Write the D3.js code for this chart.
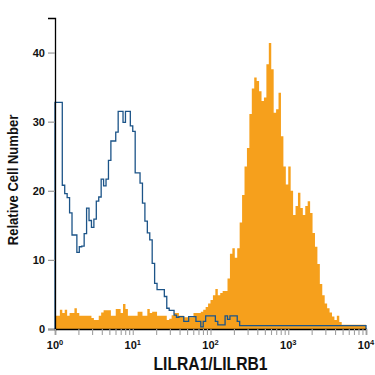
<!DOCTYPE html>
<html>
<head>
<meta charset="utf-8">
<script src="https://cdn.jsdelivr.net/npm/d3@7"></script>
<style>
  html, body { margin: 0; padding: 0; background: #fff; }
  svg { display: block; }
</style>
</head>
<body>
<svg id="chart" width="375" height="375"></svg>
<script>
// ---- data ----
const xDomain = [1, 10000];          // log10 channel range
const yDomain = [0, 45];
const yTicks = [0, 10, 20, 30, 40];
const xMajorTicks = [1, 10, 100, 1000, 10000];
const xExponents = ["0", "1", "2", "3", "4"];
const xTitle = "LILRA1/LILRB1";
const yTitle = "Relative Cell Number";

// 128 log-spaced bins over 10^0..10^4
const isotypeCounts = [
  32.8, 32.8, 32.8, 20.8, 19.6, 19.0, 16.8, 13.6, 13.6, 11.1,
  11.9, 12.0, 13.8, 17.5, 15.7, 14.7, 15.9, 18.5, 19.1, 21.7,
  20.7, 21.7, 24.4, 27.2, 27.2, 28.5, 31.5, 31.5, 29.9, 31.5,
  31.5, 29.4, 28.6, 22.6, 22.6, 21.1, 18.2, 15.6, 13.9, 12.9,
  9.5, 6.6, 5.7, 5.7, 5.7, 4.7, 3.0, 2.7, 2.7, 2.0,
  1.7, 1.8, 1.8, 1.1, 1.1, 1.8, 1.8, 1.8, 1.1, 1.1,
  0.3, 1.1, 1.9, 1.9, 1.9, 1.9, 1.1, 0.6, 0.6, 0.6,
  1.9, 1.4, 1.9, 1.9, 1.9, 1.1, 0.5, 0.5, 0.5, 0.5,
  0.5, 0.5, 0.5, 0.5, 0.5, 0.5, 0.5, 0.5, 0.5, 0.5,
  0.5, 0.5, 0.5, 0.5, 0.5, 0.5, 0.5, 0.5, 0.5, 0.5,
  0.5, 0.5, 0.5, 0.5, 0.5, 0.5, 0.5, 0.5, 0.5, 0.5,
  0.5, 0.5, 0.5, 0.5, 0.5, 0.5, 0.5, 0.5, 0.5, 0.5,
  0.5, 0.5, 0.5, 0.5, 0.5, 0.5, 0.5, 0.5
];
const stainedCounts = [
  1.9, 1.9, 2.8, 2.3, 2.8, 1.9, 2.3, 2.3, 3.0, 2.3,
  1.9, 1.9, 1.9, 1.9, 1.9, 1.6, 1.3, 1.3, 1.9, 2.4,
  2.7, 2.7, 2.7, 1.9, 1.9, 2.9, 2.9, 2.3, 3.6, 2.9,
  1.9, 1.9, 1.9, 1.9, 2.5, 2.5, 1.9, 1.9, 2.9, 2.3,
  2.5, 2.5, 1.9, 1.9, 1.9, 1.9, 1.3, 1.5, 2.0, 2.3,
  2.3, 1.9, 1.9, 1.7, 1.7, 1.7, 1.7, 2.3, 2.3, 2.3,
  2.5, 2.8, 3.2, 3.7, 4.2, 4.9, 5.8, 4.9, 5.2, 5.5,
  5.5, 7.3, 10.9, 11.7, 10.3, 11.7, 15.4, 19.4, 23.5, 26.2,
  31.1, 34.8, 36.4, 35.9, 34.4, 33.0, 33.5, 38.3, 41.4, 37.6,
  31.3, 31.8, 34.2, 27.9, 23.5, 20.9, 23.5, 20.0, 16.5, 17.8,
  19.7, 17.5, 16.5, 17.8, 18.5, 16.8, 13.9, 11.9, 9.4, 6.5,
  4.9, 3.7, 3.0, 2.4, 1.8, 1.3, 1.9, 1.0, 0.6, 0.6,
  0.6, 0.6, 0.6, 0.6, 0.6, 0.6, 0.6, 0.6
];

// ---- layout ----
const margin = { left: 55, right: 9, top: 18, bottom: 46 };
const W = 375, H = 375;
const svg = d3.select("#chart");
const x = d3.scaleLog().domain(xDomain).range([margin.left, W - margin.right]);
const y = d3.scaleLinear().domain(yDomain).range([H - margin.bottom, margin.top]);

const nBins = stainedCounts.length;
const lo = Math.log10(xDomain[0]), hi = Math.log10(xDomain[1]);
const edge = i => Math.pow(10, lo + (hi - lo) * i / nBins);

function stepPoints(counts) {
  const pts = counts.map((v, i) => ({ x: edge(i), v }));
  pts.push({ x: edge(counts.length), v: counts[counts.length - 1] });
  return pts;
}

const orange = "#f6a01c";
const blue = "#1c5488";

// stained (filled orange)
const area = d3.area()
  .curve(d3.curveStepAfter)
  .x(d => x(d.x))
  .y0(y(0))
  .y1(d => y(d.v));
svg.append("path")
  .datum(stepPoints(stainedCounts))
  .attr("d", area)
  .attr("fill", orange);

// isotype (blue outline), closed down to the baseline at both ends
const isoPts = [{ x: edge(0), v: 0 }, ...stepPoints(isotypeCounts), { x: edge(nBins), v: 0 }];
const line = d3.line().curve(d3.curveStepBefore).x(d => x(d.x)).y(d => y(d.v));
svg.append("path")
  .datum(isoPts)
  .attr("d", d3.line().curve(d3.curveStepAfter).x(d => x(d.x)).y(d => y(d.v)))
  .attr("fill", "none")
  .attr("stroke", blue)
  .attr("stroke-width", 1.3);

// ---- axes ----
const tickFont = "'Liberation Sans', Arial, sans-serif";
const titleFont = "'Liberation Sans', Arial, sans-serif";

const yAxis = svg.append("g")
  .attr("transform", `translate(${margin.left},0)`)
  .call(d3.axisLeft(y).tickValues(yTicks).tickSize(7).tickPadding(3).tickFormat(d3.format("d")));
yAxis.select(".domain").attr("stroke", "#000").attr("stroke-width", 1.3);
yAxis.selectAll(".tick line").attr("stroke", "#9a9a9a").attr("stroke-width", 1.2);
yAxis.selectAll(".tick text")
  .attr("fill", "#111").attr("font-family", tickFont).attr("font-size", 11).attr("font-weight", "bold");

// minor + major ticks on x
const xTickVals = [];
for (let e = 0; e < 4; e++) for (let m = 1; m < 10; m++) xTickVals.push(m * Math.pow(10, e));
xTickVals.push(10000);

const xAxis = svg.append("g")
  .attr("transform", `translate(0,${H - margin.bottom})`)
  .call(d3.axisBottom(x).tickValues(xTickVals).tickSize(6).tickFormat(""));
xAxis.select(".domain").attr("stroke", "#000").attr("stroke-width", 1.3);
xAxis.selectAll(".tick line").attr("stroke", "#a0a0a0").attr("stroke-width", 1.1);

// decade labels with superscripts
const lbl = svg.append("g");
xMajorTicks.forEach((v, i) => {
  const t = lbl.append("text")
    .attr("x", x(v))
    .attr("y", H - margin.bottom + 20)
    .attr("text-anchor", "middle")
    .attr("font-family", tickFont)
    .attr("font-size", 11)
    .attr("font-weight", "bold")
    .attr("fill", "#111");
  t.append("tspan").text("10");
  t.append("tspan").attr("dy", -4).attr("font-size", 7.5).text(xExponents[i]);
});

// titles (condensed bold look via horizontal scaling)
svg.append("text")
  .attr("transform", `translate(${x(100)},370) scale(0.87,1)`)
  .attr("text-anchor", "middle")
  .attr("font-family", titleFont)
  .attr("font-size", 18)
  .attr("font-weight", "bold")
  .attr("fill", "#111")
  .text(xTitle);

svg.append("text")
  .attr("transform", `translate(17.5,180) rotate(-90) scale(0.87,1)`)
  .attr("text-anchor", "middle")
  .attr("font-family", titleFont)
  .attr("font-size", 15)
  .attr("font-weight", "bold")
  .attr("fill", "#111")
  .text(yTitle);
</script>
</body>
</html>
